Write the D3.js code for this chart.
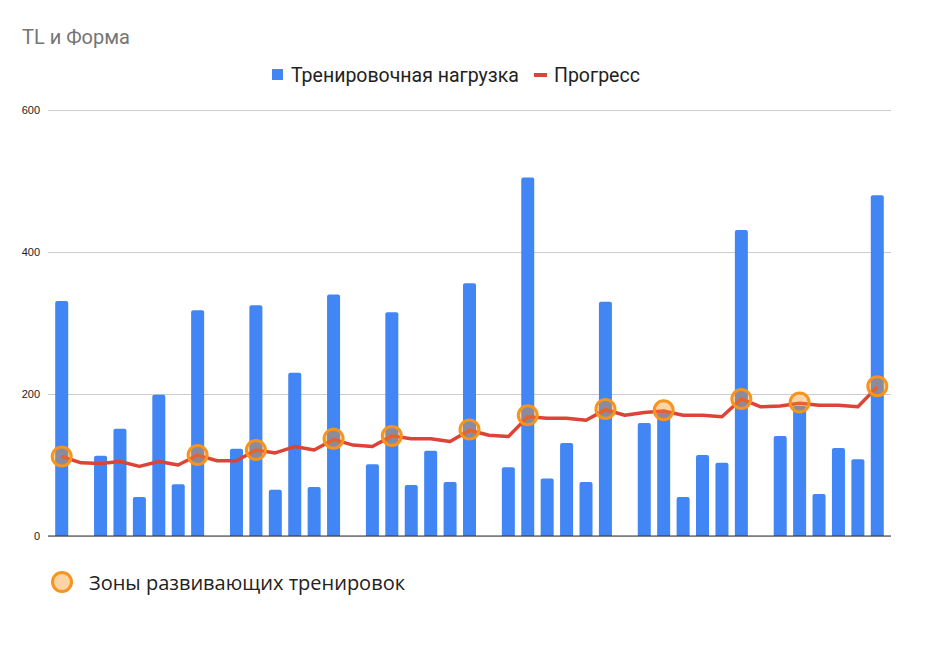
<!DOCTYPE html>
<html>
<head>
<meta charset="utf-8">
<script src="https://cdn.jsdelivr.net/npm/d3@7"></script>
<style>
  body { margin: 0; background: #fff; }
  svg { display: block; }
</style>
</head>
<body>
<svg width="938" height="646"></svg>
<script>
// training load per day (0 = rest day)
var days = d3.range(1, 44);
var load = [331, 0, 113, 151, 55, 199, 73, 318, 0, 123, 325, 65, 230, 69,
            340, 0, 101, 315, 72, 120, 76, 356, 0, 97, 505, 81, 131, 76,
            330, 0, 159, 176, 55, 114, 103, 431, 0, 141, 183, 59, 124, 108, 480];
var progress = [112, 103, 102, 105, 98, 105, 100, 114, 106, 106, 121, 117, 126, 121,
                136, 128, 126, 141, 137, 137, 133, 149, 142, 140, 168, 166, 166, 163,
                178, 170, 174, 176, 170, 170, 168, 193, 182, 183, 187, 184, 184, 182, 210];
// development zones: day index -> value
var zoneDays = [0, 7, 10, 14, 17, 21, 24, 28, 31, 35, 38, 42];
var zoneVals = [112, 114, 121, 137, 141, 150, 170, 179, 177, 193, 188, 211];
var yTicks = [0, 200, 400, 600];

var svg = d3.select("svg");

var x = d3.scaleBand()
    .domain(days)
    .range([52, 887])
    .paddingInner(0.33)
    .paddingOuter(0.165);

var y = d3.scaleLinear()
    .domain([0, 600])
    .range([536, 110]);

// title
svg.append("text")
    .attr("x", 22)
    .attr("y", 44)
    .attr("font-family", "Roboto")
    .attr("font-size", 20)
    .attr("fill", "#757575")
    .text("TL и Форма");

// top legend
var leg = svg.append("g").attr("font-family", "Roboto").attr("font-size", 19.5).attr("fill", "#222");
leg.append("rect").attr("x", 272).attr("y", 69).attr("width", 11).attr("height", 11).attr("fill", "#4285f4");
leg.append("text").attr("x", 291).attr("y", 82).text("Тренировочная нагрузка");
leg.append("line").attr("x1", 534).attr("x2", 547).attr("y1", 75).attr("y2", 75)
    .attr("stroke", "#db4437").attr("stroke-width", 4);
leg.append("text").attr("x", 554).attr("y", 82).text("Прогресс");

// gridlines + y labels
var yAxis = d3.axisLeft(y).tickValues(yTicks).tickSize(-843).tickPadding(8);
var gy = svg.append("g")
    .attr("transform", "translate(48,0)")
    .call(yAxis);
gy.select(".domain").remove();
gy.selectAll(".tick line").attr("stroke", "#cccccc");
gy.selectAll(".tick text")
    .attr("font-family", "Liberation Sans, Arial")
    .attr("font-size", 11)
    .attr("fill", "#222");

// bars
svg.append("g")
    .selectAll("path")
    .data(load.map(function (v, i) { return { day: days[i], v: v }; }).filter(function (d) { return d.v > 0; }))
    .enter().append("path")
    .attr("fill", "#4285f4")
    .attr("d", function (d) {
        var x0 = x(d.day), w = x.bandwidth(), y0 = y(d.v), y1 = y(0), r = 2;
        return "M" + x0 + "," + y1 + "V" + (y0 + r) + "Q" + x0 + "," + y0 + " " + (x0 + r) + "," + y0 +
            "H" + (x0 + w - r) + "Q" + (x0 + w) + "," + y0 + " " + (x0 + w) + "," + (y0 + r) + "V" + y1 + "Z";
    });

// baseline
svg.append("line")
    .attr("x1", 48).attr("x2", 891)
    .attr("y1", y(0)).attr("y2", y(0))
    .attr("stroke", "#333").attr("stroke-width", 1);

// progress line
var line = d3.line()
    .x(function (d, i) { return x(days[i]) + x.bandwidth() / 2; })
    .y(function (d) { return y(d); });

svg.append("path")
    .datum(progress)
    .attr("fill", "none")
    .attr("stroke", "#db4437")
    .attr("stroke-width", 3.5)
    .attr("stroke-linejoin", "round")
    .attr("d", line);

// zone circles
svg.append("g")
    .selectAll("circle")
    .data(zoneDays)
    .enter().append("circle")
    .attr("cx", function (d) { return x(days[d]) + x.bandwidth() / 2; })
    .attr("cy", function (d, i) { return y(zoneVals[i]); })
    .attr("r", 9.5)
    .attr("fill", "#f7941d")
    .attr("fill-opacity", 0.4)
    .attr("stroke", "#f7941d")
    .attr("stroke-width", 3);

// bottom legend
svg.append("circle")
    .attr("cx", 62).attr("cy", 582).attr("r", 9.5)
    .attr("fill", "#f7941d").attr("fill-opacity", 0.4)
    .attr("stroke", "#f7941d").attr("stroke-width", 3);
svg.append("text")
    .attr("x", 89).attr("y", 590)
    .attr("font-family", "Open Sans")
    .attr("font-size", 20)
    .attr("fill", "#222")
    .text("Зоны развивающих тренировок");
</script>
</body>
</html>
